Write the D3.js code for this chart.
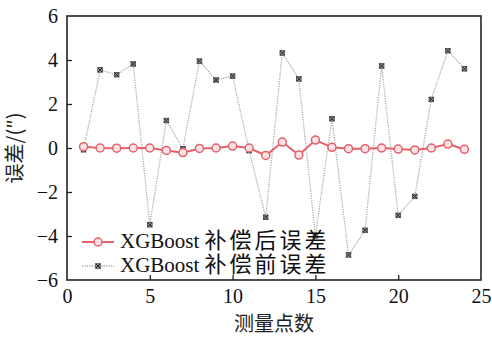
<!DOCTYPE html>
<html>
<head>
<meta charset="utf-8">
<script src="https://cdn.jsdelivr.net/npm/d3@7"></script>
<style>
  body { margin: 0; background: #fff; }
  svg { display: block; }
</style>
</head>
<body>
<script>
const width = 492;
const height = 338;
const margin = { top: 16, right: 11, bottom: 58, left: 67 };

// measurement points 1..24
const points = d3.range(1, 25);
const afterErr = [0.06, 0.0, -0.01, 0.0, 0.0, -0.11, -0.21, -0.02, 0.0, 0.09, 0.0, -0.34,
  0.27, -0.32, 0.36, 0.03, -0.03, -0.03, 0.0, -0.05, -0.09, 0.0, 0.18, -0.06];
const beforeErr = [-0.08, 3.55, 3.33, 3.82, -3.49, 1.25, -0.03, 3.95, 3.09, 3.27, -0.12, -3.15,
  4.32, 3.14, -3.99, 1.33, -4.86, -3.74, 3.73, -3.06, -2.2, 2.21, 4.42, 3.6];
const xTicks = [0, 5, 10, 15, 20, 25];
const yTicks = [-6, -4, -2, 0, 2, 4, 6];
const seriesNames = ['XGBoost 补偿后误差', 'XGBoost 补偿前误差'];

const serif = '"Liberation Serif", "Times New Roman", serif';
const cjk = '"Noto Sans CJK SC", sans-serif';

const svg = d3.select('body').append('svg')
  .attr('width', width)
  .attr('height', height);

const x = d3.scaleLinear()
  .domain([0, 25])
  .range([margin.left, width - margin.right]);

const y = d3.scaleLinear()
  .domain([-6, 6])
  .range([height - margin.bottom, margin.top]);

// axes with inward ticks
const xAxisG = svg.append('g')
  .attr('transform', `translate(0,${height - margin.bottom})`)
  .call(d3.axisBottom(x).tickValues(xTicks).tickSize(-5).tickPadding(9)
    .tickFormat(d3.format('d')));

const yAxisG = svg.append('g')
  .attr('transform', `translate(${margin.left},0)`)
  .call(d3.axisLeft(y).tickValues(yTicks).tickSize(-5).tickPadding(9)
    .tickFormat(d => d < 0 ? '\u2212' + Math.abs(d) : d));

for (const g of [xAxisG, yAxisG]) {
  g.select('.domain').remove();
  g.selectAll('line').attr('stroke', '#222').attr('stroke-width', 1.3);
  g.selectAll('text')
    .attr('fill', '#111')
    .attr('font-family', serif)
    .attr('font-size', 20);
}
xAxisG.selectAll('.tick').filter(d => d === 0 || d === 25).select('line').remove();
yAxisG.selectAll('.tick').filter(d => d === -6 || d === 6).select('line').remove();

// frame
svg.append('rect')
  .attr('x', x(0))
  .attr('y', y(6))
  .attr('width', x(25) - x(0))
  .attr('height', y(-6) - y(6))
  .attr('fill', 'none')
  .attr('stroke', '#222')
  .attr('stroke-width', 1.6);

const line = d3.line()
  .x((d, i) => x(points[i]))
  .y(d => y(d));

// before compensation: grey dotted line, x-square markers
svg.append('path')
  .datum(beforeErr)
  .attr('fill', 'none')
  .attr('stroke', '#aaa')
  .attr('stroke-width', 1.3)
  .attr('stroke-dasharray', '1.2,1.2')
  .attr('d', line);

function crossMark(g, cx, cy) {
  const s = 2.3;
  g.append('rect')
    .attr('x', cx - s).attr('y', cy - s)
    .attr('width', 2 * s).attr('height', 2 * s)
    .attr('fill', '#999').attr('stroke', '#444').attr('stroke-width', 0.8);
  g.append('path')
    .attr('d', `M${cx - s},${cy - s}L${cx + s},${cy + s}M${cx - s},${cy + s}L${cx + s},${cy - s}`)
    .attr('stroke', '#222').attr('stroke-width', 1);
}

const beforeG = svg.append('g');
beforeErr.forEach((d, i) => crossMark(beforeG, x(points[i]), y(d)));

// after compensation: red line with open circles
const red = '#e5606b';
svg.append('path')
  .datum(afterErr)
  .attr('fill', 'none')
  .attr('stroke', red)
  .attr('stroke-width', 2)
  .attr('d', line);

svg.append('g')
  .selectAll('circle')
  .data(afterErr)
  .join('circle')
  .attr('cx', (d, i) => x(points[i]))
  .attr('cy', d => y(d))
  .attr('r', 4)
  .attr('fill', '#fbe3e5')
  .attr('stroke', red)
  .attr('stroke-width', 1.5);

// legend
const legend = svg.append('g');
const legendRows = [
  { name: seriesNames[0], y: 242 },
  { name: seriesNames[1], y: 266 }
];

legend.append('line')
  .attr('x1', 82).attr('x2', 114)
  .attr('y1', legendRows[0].y).attr('y2', legendRows[0].y)
  .attr('stroke', red).attr('stroke-width', 2);
legend.append('circle')
  .attr('cx', 98).attr('cy', legendRows[0].y).attr('r', 4)
  .attr('fill', '#fbe3e5').attr('stroke', red).attr('stroke-width', 1.5);

legend.append('line')
  .attr('x1', 82).attr('x2', 114)
  .attr('y1', legendRows[1].y).attr('y2', legendRows[1].y)
  .attr('stroke', '#aaa').attr('stroke-width', 1.3)
  .attr('stroke-dasharray', '1.2,1.2');
crossMark(legend, 98, legendRows[1].y);

legendRows.forEach(r => {
  const [latin, han] = r.name.split(' ');
  const t = legend.append('text')
    .attr('x', 120)
    .attr('y', r.y + 6)
    .attr('fill', '#111');
  t.append('tspan')
    .attr('font-family', serif)
    .attr('font-size', 21)
    .text(latin + ' ');
  t.append('tspan')
    .attr('font-family', cjk)
    .attr('font-size', 22)
    .attr('letter-spacing', 3)
    .text(han);
});

// axis titles
svg.append('text')
  .attr('x', (x(0) + x(25)) / 2)
  .attr('y', 331)
  .attr('text-anchor', 'middle')
  .attr('font-family', cjk)
  .attr('font-size', 20)
  .attr('fill', '#222')
  .text('测量点数');

svg.append('text')
  .attr('transform', `translate(22,${(y(6) + y(-6)) / 2}) rotate(-90)`)
  .attr('text-anchor', 'middle')
  .attr('font-family', cjk)
  .attr('font-size', 20)
  .attr('fill', '#222')
  .text('误差/(″)');
</script>
</body>
</html>
